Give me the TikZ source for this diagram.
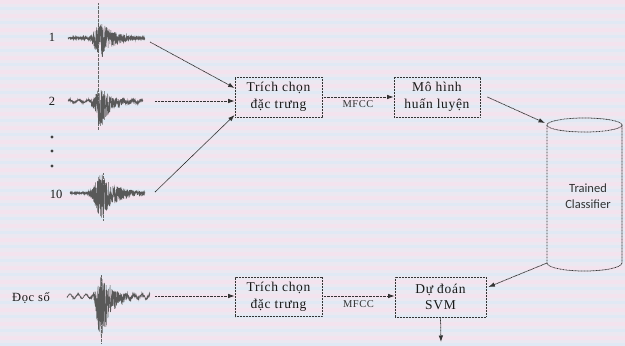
\documentclass[tikz,border=0pt]{standalone}
\usepackage{fontspec}
\setmainfont{Liberation Serif}
\newfontfamily\boxfont[LetterSpace=5]{Liberation Serif}
\newfontfamily\cylfont{Carlito}
\usetikzlibrary{arrows.meta}
\definecolor{bgbase}{HTML}{EBE8F1}
\definecolor{bgpink}{HTML}{F3E3EE}
\definecolor{bgblue}{HTML}{E0E9F4}
\definecolor{ink}{HTML}{333333}
\pgfmathdeclarefunction{burst}{4}{%
  \pgfmathparse{(#1<#2) ? exp(max(-8,-((#1-#2)/#3)^2)) : exp(max(-8,-(#1-#2)/#4))}}
\begin{document}
\begin{tikzpicture}[x=1pt,y=-1pt,
  box/.style={draw=ink, dash pattern=on 0.9pt off 0.6pt, line width=0.75pt,
    minimum width=87pt, minimum height=40pt, align=center, inner sep=0pt,
    font=\boxfont\fontsize{13.5}{16.5}\selectfont, text=black!90},
  conn/.style={draw=ink, line width=0.75pt, dash pattern=on 0.9pt off 0.5pt,
    -{Latex[length=6.5pt,width=4.5pt]}},
  lbl/.style={font=\fontsize{12.5}{14}\selectfont, text=black!90},
  mf/.style={font=\boxfont\fontsize{10.5}{12}\selectfont, text=black!80},
  dotn/.style={circle, fill=black!75, inner sep=0pt, minimum size=3.2pt},
  cyl/.style={draw=ink, line width=0.75pt, dash pattern=on 0.9pt off 0.6pt},
  wavy/.style={draw=black!65, line width=0.5pt},
  spike/.style={draw=black!60, line width=1pt, dash pattern=on 0.8pt off 0.5pt}]
\pgfmathsetseed{7}
% background
\fill[bgbase] (0,0) rectangle (625,343);
\foreach \k in {0,...,24} {
  \fill[bgpink] (0,\k*14) rectangle (625,\k*14+4);
  \fill[bgblue] (0,\k*14+7) rectangle (625,\k*14+10);
}
\useasboundingbox (0,0) rectangle (625,343);

% labels
\node[lbl] (l1) at (52,37) {1};
\node[lbl] (l2) at (52,101) {2};
\node[dotn] (d1) at (52,137) {};
\node[dotn] (d2) at (52,151) {};
\node[dotn] (d3) at (52,166) {};
\node[lbl] (l10) at (56,194) {10};
\node[lbl, font=\boxfont\fontsize{12.5}{14}\selectfont] (ld) at (31,298) {Đọc số};

% waveforms
\draw[spike] (98,3) -- (98,130);
\draw[spike] (103,173) -- (103,220);
\draw[spike] (101,275) -- (101,343);
\draw[wavy] plot[domain=68:145, samples=500, variable=\t]
  (\t, {38 + (1.0 + 19*burst(\t,101,7,12))*(rnd-0.45)*2});
\draw[wavy] plot[domain=68:143, samples=500, variable=\t]
  (\t, {101 + 1.3*sin(\t*40) + (0.8 + 21*burst(\t,101,6,10))*(rnd-0.36)*2});
\draw[wavy] plot[domain=70:145, samples=500, variable=\t]
  (\t, {193 + (0.8 + 22*burst(\t,102,8,14))*(rnd-0.43)*2});
\draw[wavy] plot[domain=67:150, samples=520, variable=\t]
  (\t, {296 + 2*sin(\t*45) + (0.6 + 32*burst(\t,101,5,11))*(rnd-0.31)*2});

\coordinate (w1e) at (150,42);
\coordinate (w2e) at (155,101);
\coordinate (w10e) at (155,192);
\coordinate (wde) at (155,296);

% boxes
\node[box] (tc1) at (278.5,97) {Trích chọn\\đặc trưng};
\node[box, minimum width=86pt] (mh) at (437,97) {Mô hình\\huấn luyện};
\node[box, minimum height=39pt] (tc2) at (278.5,297) {Trích chọn\\đặc trưng};
\node[box, minimum width=91pt] (dd) at (440.5,297) {Dự đoán\\SVM};

% cylinder
\draw[cyl] (584.5,125) ellipse [x radius=37.5pt, y radius=7pt];
\draw[cyl] (547,125) -- (547,263)
  arc[start angle=180, end angle=360, x radius=37.5pt, y radius=8pt] -- (622,125);
\node[font=\cylfont\fontsize{12.5}{16.5}\selectfont, align=center, text=black!80]
  (tcl) at (588,196) {Trained\\Classifier};
\coordinate (cylT) at (545,123);
\coordinate (cylB) at (547,263);
\coordinate (outp) at (441,342);

% connectors
\draw[conn] (w1e) -- ([yshift=9pt]tc1.west);
\draw[conn] (w2e) -- (tc1.west |- w2e);
\draw[conn] (w10e) -- ([yshift=-18pt]tc1.west);
\draw[conn] (tc1.east) -- node[mf, below=0pt] {MFCC} (mh.west);
\draw[conn] ([xshift=7pt]mh.east) -- (cylT);
\draw[conn] (wde) -- (tc2.west |- wde);
\draw[conn] (tc2.east |- wde) -- node[mf, below=1pt] {MFCC} (dd.west |- wde);
\draw[conn] (cylB) -- ([xshift=2pt,yshift=10pt]dd.east);
\draw[conn] (dd.south) -- (outp);
\end{tikzpicture}
\end{document}
